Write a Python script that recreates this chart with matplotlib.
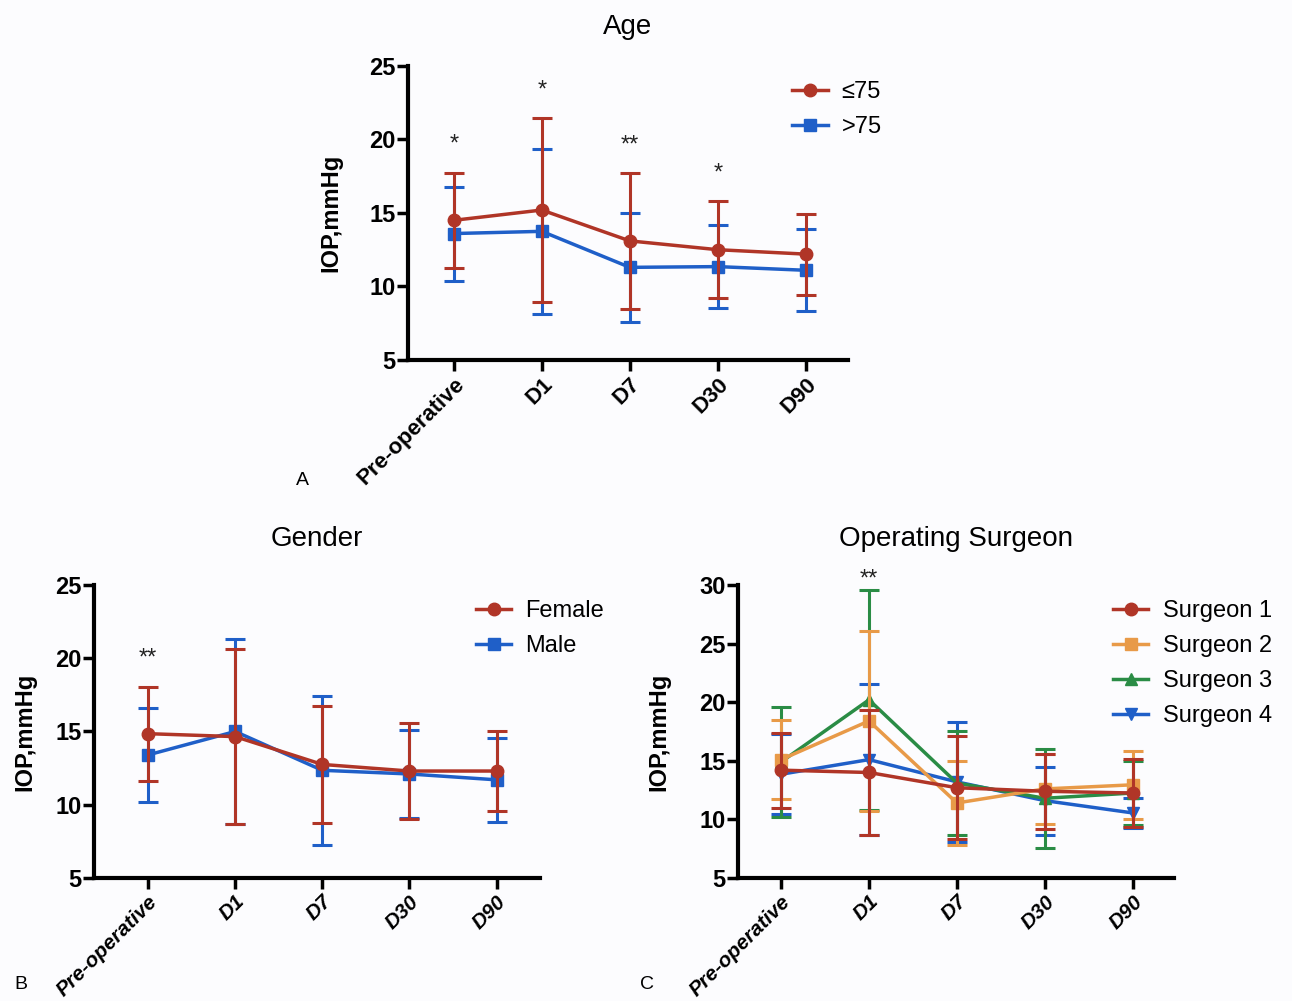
import numpy as np
import matplotlib.pyplot as plt
from matplotlib.lines import Line2D

plt.rcParams['font.family'] = ['Liberation Sans', 'DejaVu Sans']

timepoints = ['Pre-operative', 'D1', 'D7', 'D30', 'D90']

# Age
age_le75_mean = [14.5, 15.2, 13.1, 12.5, 12.2]
age_le75_sd = [3.25, 6.25, 4.6, 3.3, 2.75]
age_gt75_mean = [13.6, 13.75, 11.3, 11.35, 11.1]
age_gt75_sd = [3.2, 5.6, 3.7, 2.8, 2.8]
age_stars = ['*', '*', '**', '*', '']

# Gender
female_mean = [14.85, 14.65, 12.75, 12.3, 12.3]
female_sd = [3.2, 5.95, 4.0, 3.25, 2.75]
male_mean = [13.4, 15.0, 12.35, 12.1, 11.7]
male_sd = [3.2, 6.3, 5.1, 3.0, 2.85]
gender_stars = ['**', '', '', '', '']

# Operating surgeon
s1_mean = [14.2, 14.0, 12.7, 12.4, 12.25]
s1_sd = [3.2, 5.3, 4.4, 3.2, 2.9]
s2_mean = [15.1, 18.4, 11.4, 12.6, 12.95]
s2_sd = [3.4, 7.7, 3.55, 3.0, 2.9]
s3_mean = [14.9, 20.2, 13.1, 11.8, 12.25]
s3_sd = [4.7, 9.4, 4.4, 4.2, 2.7]
s4_mean = [13.85, 15.1, 13.2, 11.6, 10.55]
s4_sd = [3.4, 6.45, 5.1, 2.9, 1.3]
surgeon_stars = ['', '**', '', '', '']

RED = '#b03527'
BLUE = '#1f5fc8'
ORANGE = '#e89a48'
GREEN = '#2a8c45'

fig = plt.figure(figsize=(12.92, 10.01), dpi=100)
fig.patch.set_facecolor('#fcfcfe')


def panel(rect, title, series, ylim, yticks, stars, star_off, italic, xlim,
          letter, letter_pos, ylab_x, leg_x, title_pad, xfs):
    ax = fig.add_axes(rect)
    ax.set_facecolor('none')
    x = np.arange(len(timepoints))
    handles = []
    n = len(series)
    for k, (mean, sd, color, marker, label) in enumerate(series):
        ax.errorbar(x, mean, yerr=sd, color=color, marker=marker, markersize=9,
                    lw=2.5, elinewidth=2.2, capsize=7, capthick=2.2, zorder=10 + n - k)
        handles.append(Line2D([], [], color=color, marker=marker, markersize=9,
                              lw=2.5, label=label))
    tops = np.max([np.array(m) + np.array(s) for m, s, *_ in series], axis=0)
    for i, st in enumerate(stars):
        if st:
            ax.text(x[i], tops[i] + star_off, st, ha='center', va='center', fontsize=17,
                    color='#222222', clip_on=False)
    ax.set_xlim(*xlim)
    ax.set_ylim(*ylim)
    ax.set_yticks(yticks)
    ax.set_yticklabels([str(t) for t in yticks], fontsize=17, fontweight='bold')
    ax.set_xticks(x)
    ax.set_xticklabels(timepoints, rotation=45, ha='right', rotation_mode='anchor',
                       fontsize=xfs, fontweight='bold', style='italic' if italic else 'normal')
    for s in ['top', 'right']:
        ax.spines[s].set_visible(False)
    for s in ['left', 'bottom']:
        ax.spines[s].set_linewidth(3)
    ax.tick_params(width=2.5, length=8)
    ax.tick_params(axis='y', pad=1)
    ax.tick_params(axis='x', pad=2)
    ax.set_ylabel('IOP,mmHg', fontsize=17, fontweight='bold')
    ax.yaxis.set_label_coords(ylab_x, 0.5)
    ax.set_title(title, fontsize=20, pad=title_pad)
    ax.legend(handles=handles, loc='upper left', bbox_to_anchor=(leg_x, 0.948),
              frameon=False, fontsize=17, borderpad=0, borderaxespad=0,
              handlelength=1.5, labelspacing=0.55, handletextpad=0.6)
    fig.text(letter_pos[0], letter_pos[1], letter, fontsize=14, ha='left', va='center')
    return ax


panel([0.3158, 0.6404, 0.3406, 0.2937], 'Age',
      [(age_le75_mean, age_le75_sd, RED, 'o', '≤75'),
       (age_gt75_mean, age_gt75_sd, BLUE, 's', '>75')],
      (5, 25), [5, 10, 15, 20, 25], age_stars, 1.9, False, (-0.52, 4.48),
      'A', (0.229, 0.52), -0.15, 0.873, 23, 16)

panel([0.0728, 0.1229, 0.3452, 0.2927], 'Gender',
      [(female_mean, female_sd, RED, 'o', 'Female'),
       (male_mean, male_sd, BLUE, 's', 'Male')],
      (5, 25), [5, 10, 15, 20, 25], gender_stars, 1.9, True, (-0.62, 4.5),
      'B', (0.011, 0.016), -0.13, 0.856, 28, 15)

panel([0.5712, 0.1229, 0.3375, 0.2927], 'Operating Surgeon',
      [(s1_mean, s1_sd, RED, 'o', 'Surgeon 1'),
       (s2_mean, s2_sd, ORANGE, 's', 'Surgeon 2'),
       (s3_mean, s3_sd, GREEN, '^', 'Surgeon 3'),
       (s4_mean, s4_sd, BLUE, 'v', 'Surgeon 4')],
      (5, 30), [5, 10, 15, 20, 25, 30], surgeon_stars, 0.9, True, (-0.49, 4.47),
      'C', (0.495, 0.016), -0.155, 0.86, 28, 15)

fig.savefig('out.png', dpi=100, facecolor=fig.get_facecolor())
